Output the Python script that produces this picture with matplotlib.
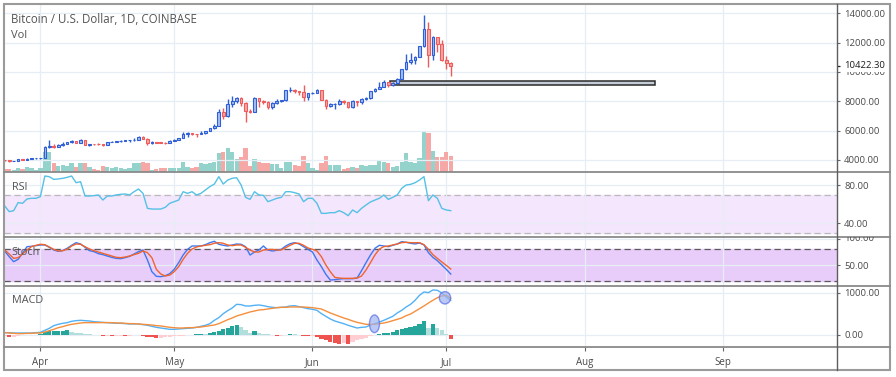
import matplotlib
matplotlib.use('Agg')
import matplotlib.pyplot as plt
import matplotlib.dates as mdates
import numpy as np
import pandas as pd
from matplotlib.patches import Rectangle, Ellipse
from matplotlib.lines import Line2D
from matplotlib.ticker import FuncFormatter
from matplotlib.transforms import Bbox, TransformedBbox, blended_transform_factory

plt.rcParams['font.family'] = ['Open Sans', 'DejaVu Sans']

# daily BTC/USD candles, 2019-03-24 .. 2019-07-02
opens = [3995, 3980, 3910, 3930, 4035, 4015, 4095, 4105, 4108, 4150,
         4880, 4975, 4905, 5040, 5065, 5205, 5285, 5190, 5330, 5040,
         5075, 5070, 5060, 5030, 5220, 5240, 5290, 5300, 5330, 5335,
         5390, 5545, 5440, 5150, 5200, 5190, 5170, 5155, 5320, 5380,
         5490, 5760, 5830, 5790, 5745, 5850, 5990, 6170, 6350, 7250,
         6970, 7810, 7990, 8200, 7880, 7350, 7260, 8200, 7990, 7950,
         7640, 7880, 7990, 8060, 8740, 8780, 8720, 8660, 8270, 8550,
         8560, 8740, 8120, 7680, 7790, 7810, 8000, 7930, 7630, 8010,
         7920, 8170, 8230, 8690, 8850, 8980, 9330, 9080, 9280, 9530,
         10200, 10700, 10850, 11020, 11760, 12930, 11160, 12370, 11880, 10800,
         10600]
highs = [4000, 3990, 3950, 4050, 4040, 4110, 4130, 4115, 4165, 4920,
         5350, 5070, 5070, 5240, 5240, 5350, 5290, 5460, 5340, 5100,
         5110, 5170, 5120, 5240, 5290, 5320, 5340, 5350, 5350, 5480,
         5640, 5620, 5530, 5310, 5240, 5220, 5200, 5330, 5400, 5510,
         5880, 5900, 5840, 5800, 6000, 6000, 6200, 6450, 7450, 7570,
         8140, 8350, 8280, 8320, 7950, 7490, 8270, 8200, 8100, 8040,
         7950, 8160, 8120, 8750, 8950, 8810, 8730, 9080, 8580, 8640,
         8820, 8770, 8130, 7900, 7870, 8130, 8060, 7950, 8090, 8020,
         8210, 8310, 8700, 8880, 9350, 9470, 9350, 9310, 9620, 10230,
         11240, 11300, 11080, 11780, 13880, 13400, 12450, 12400, 12200, 11100,
         10680]
lows = [3950, 3880, 3900, 3920, 3995, 4005, 4050, 4085, 4080, 4140,
        4820, 4850, 4900, 4940, 5060, 5160, 5160, 5170, 4990, 4930,
        5050, 5030, 4980, 5020, 5210, 5230, 5220, 5280, 5240, 5300,
        5380, 5400, 5040, 5100, 5160, 5140, 5120, 5150, 5310, 5370,
        5480, 5600, 5720, 5600, 5740, 5780, 5990, 6140, 6350, 6800,
        6900, 7610, 7860, 7650, 6600, 7230, 7250, 7580, 7800, 7500,
        7470, 7800, 7960, 7990, 8650, 8580, 8440, 8010, 8100, 8490,
        8540, 8100, 7460, 7580, 7460, 7780, 7800, 7520, 7530, 7710,
        7840, 8070, 8170, 8620, 8820, 8970, 8960, 9040, 9250, 9530,
        10120, 10560, 10560, 11000, 11720, 10320, 10800, 11360, 10750, 10200,
        9750]
closes = [3980, 3910, 3930, 4035, 4015, 4095, 4105, 4108, 4150, 4880,
          4975, 4905, 5040, 5065, 5205, 5285, 5190, 5330, 5040, 5075,
          5070, 5060, 5030, 5220, 5240, 5290, 5300, 5330, 5335, 5390,
          5545, 5440, 5150, 5200, 5190, 5170, 5155, 5320, 5380, 5490,
          5760, 5830, 5790, 5745, 5850, 5990, 6170, 6350, 7250, 6970,
          7810, 7990, 8200, 7880, 7350, 7260, 8200, 7990, 7950, 7640,
          7880, 7990, 8060, 8740, 8780, 8720, 8660, 8270, 8550, 8560,
          8740, 8120, 7680, 7790, 7810, 8000, 7930, 7630, 8010, 7920,
          8170, 8230, 8690, 8850, 8980, 9330, 9080, 9280, 9530, 10200,
          10700, 10850, 11020, 11760, 12930, 11160, 12370, 11880, 10800, 10600,
          10422.3]
volume = [3, 3, 1.7, 3.3, 2.3, 5, 3.3, 1.7, 4, 20,
          20, 8.3, 6, 6.7, 6, 9, 5, 8.3, 8.3, 5,
          2.3, 1.7, 5.7, 4.3, 4, 5, 3.3, 3, 3.3, 8.3,
          9, 10, 8.3, 1.7, 2.3, 4, 4, 4, 4, 4,
          10, 5, 3.3, 5, 8.3, 7.3, 9, 10, 19, 20,
          23.3, 20, 12.3, 15, 24, 6, 12.7, 10, 8.3, 8.3,
          7.7, 7.7, 3.3, 10, 9.3, 6.7, 6, 15.7, 8.3, 3.3,
          1.7, 8.3, 15.7, 6.7, 6.7, 6.7, 2.7, 3.3, 5, 3.3,
          6.7, 6, 6.7, 6.7, 11, 10, 8.3, 5, 6, 10,
          19, 9.3, 8.3, 13.3, 40.7, 38.3, 21, 15, 15, 20,
          16]

rsi = [58.1, 52.2, 53.2, 61.6, 60.9, 65.4, 66.1, 66.1, 67.8, 89.4,
       88.7, 85.9, 86.3, 87.0, 88.0, 89.4, 82.4, 83.5, 68.5, 68.5,
       68.9, 69.6, 64.3, 68.5, 68.5, 69.6, 70.3, 70.6, 69.6, 73.0,
       75.8, 71.3, 55.6, 54.9, 54.9, 54.9, 56.7, 60.9, 62.6, 64.3,
       73.0, 71.3, 73.0, 69.6, 71.3, 74.8, 78.3, 81.0, 88.7, 81.0,
       85.2, 87.0, 87.6, 80.0, 67.1, 65.0, 73.0, 69.6, 69.2, 62.6,
       64.3, 66.1, 67.1, 73.0, 73.0, 72.0, 70.6, 62.6, 66.1, 66.1,
       60.9, 50.4, 50.4, 51.1, 51.1, 53.2, 51.1, 48.0, 53.9, 51.1,
       55.6, 59.1, 62.3, 64.3, 66.1, 69.6, 65.0, 67.1, 69.6, 76.5,
       80.0, 80.7, 82.4, 85.2, 88.7, 63.6, 69.6, 66.1, 55.6, 53.9,
       53.2]
stoch_k = [76.8, 66.1, 56.6, 61.0, 72.4, 85.0, 85.7, 86.9, 88.2, 88.2,
           83.8, 78.7, 76.2, 77.5, 81.9, 87.6, 92.6, 90.1, 83.8, 77.5,
           75.6, 71.8, 69.9, 67.3, 64.8, 62.9, 62.3, 64.2, 66.7, 71.1,
           75.6, 78.7, 59.8, 37.6, 28.8, 28.2, 30.1, 33.8, 42.1, 54.7,
           69.2, 80.0, 86.3, 86.3, 86.3, 88.8, 92.6, 95.2, 89.5, 87.6,
           86.3, 88.2, 90.1, 89.5, 85.0, 69.2, 74.9, 78.7, 86.3, 78.7,
           76.8, 78.1, 80.0, 86.3, 90.7, 92.6, 90.1, 85.0, 80.0, 74.9,
           59.8, 47.1, 32.6, 21.8, 22.5, 23.7, 24.4, 24.4, 24.4, 25.6,
           39.5, 54.7, 69.2, 81.9, 87.6, 86.3, 85.0, 87.6, 90.1, 94.5,
           93.3, 91.4, 90.1, 92.0, 88.2, 73.7, 64.8, 58.5, 50.3, 42.1,
           33.2]
stoch_d = [78.7, 71.1, 62.9, 64.2, 71.1, 78.7, 85.0, 87.6, 89.5, 88.8,
           84.4, 80.0, 76.8, 77.5, 80.0, 86.3, 90.1, 89.5, 85.0, 80.6,
           77.5, 74.9, 72.4, 69.9, 67.3, 64.8, 64.2, 65.4, 67.3, 69.9,
           72.4, 76.8, 73.7, 64.0, 42.1, 33.2, 29.4, 31.3, 37.6, 47.1,
           61.0, 72.4, 80.6, 84.4, 86.3, 87.6, 88.8, 91.4, 92.6, 91.4,
           88.2, 86.9, 88.2, 88.2, 83.8, 78.7, 74.9, 74.9, 78.7, 79.4,
           80.0, 78.7, 78.7, 83.1, 87.6, 91.4, 91.4, 87.6, 82.5, 80.0,
           76.8, 66.1, 50.3, 37.6, 26.9, 25.6, 25.0, 25.0, 25.0, 25.6,
           29.4, 40.8, 54.7, 69.2, 80.6, 85.0, 86.3, 88.2, 90.1, 92.6,
           93.3, 92.6, 92.6, 92.6, 88.8, 80.0, 69.9, 62.9, 56.0, 49.6,
           42.7]
macd = [55, 55, 47, 47, 47, 47, 47, 55, 63, 110,
        158, 221, 252, 276, 292, 323, 339, 347, 339, 331,
        315, 307, 299, 292, 284, 276, 276, 268, 260, 260,
        260, 244, 229, 205, 181, 165, 150, 134, 134, 142,
        150, 158, 165, 181, 205, 229, 268, 347, 410, 504,
        575, 638, 725, 717, 686, 686, 701, 709, 693, 670,
        654, 646, 654, 662, 686, 693, 670, 646, 622, 607,
        583, 504, 441, 378, 331, 299, 268, 229, 197, 165,
        181, 189, 236, 268, 307, 347, 394, 441, 520, 583,
        662, 725, 820, 938, 1017, 1001, 1064, 1056, 993, 898,
        820]
signal = [55, 47, 39, 32, 32, 39, 39, 47, 47, 71,
          102, 134, 173, 197, 229, 252, 268, 284, 292, 292,
          292, 292, 292, 292, 292, 284, 284, 276, 268, 268,
          260, 252, 244, 236, 221, 213, 197, 181, 173, 165,
          165, 173, 173, 181, 189, 205, 221, 236, 268, 315,
          362, 402, 449, 480, 512, 544, 567, 591, 599, 615,
          630, 646, 654, 654, 662, 662, 662, 662, 654, 646,
          630, 615, 567, 520, 480, 441, 402, 370, 331, 299,
          276, 252, 252, 252, 268, 284, 307, 339, 370, 402,
          457, 496, 559, 622, 686, 756, 820, 882, 922, 938,
          867]
hist = [-32, -47, -39, -16, -8, 5, 8, 8, 16, 80,
        88, 92, 95, 97, 110, 71, 55, 39, 24, 16,
        8, 2, -16, -16, -24, -16, -16, -24, -16, -8,
        -3, -16, -39, -55, -63, -63, -47, -39, -32, -24,
        -16, -8, 8, 16, 24, 24, 39, 71, 95, 134,
        165, 205, 244, 189, 110, 55, 95, 47, 32, 16,
        2, -16, -16, -8, 16, 16, 8, -16, -24, -24,
        -47, -87, -126, -158, -189, -205, -189, -205, -158, -126,
        -95, -63, -32, -8, 32, 47, 55, 63, 110, 150,
        173, 197, 221, 260, 323, 173, 252, 173, 110, 32,
        -102]
last_price = 10422.30

dates = pd.date_range('2019-03-24', periods=len(closes), freq='D')
x = mdates.date2num(dates)

W, H = 896, 377
fig = plt.figure(figsize=(W / 100, H / 100), dpi=100, facecolor='white')


def box(top, bottom, left=4, right=837):
    return [left / W, 1 - bottom / H, (right - left) / W, (bottom - top) / H]


ax_v = fig.add_axes(box(4, 171.7))
ax_p = fig.add_axes(box(4, 171.7), sharex=ax_v)
ax_r = fig.add_axes(box(171.7, 236.7), sharex=ax_v)
ax_s = fig.add_axes(box(236.7, 285.7), sharex=ax_v)
ax_m = fig.add_axes(box(285.7, 346.5), sharex=ax_v)
ax_p.patch.set_alpha(0)

grid_c = '#e6edf4'
lab_c = '#4a4a4a'
for ax in (ax_v, ax_p, ax_r, ax_s, ax_m):
    for sp in ax.spines.values():
        sp.set_visible(False)
    ax.yaxis.tick_right()
    ax.tick_params(axis='y', direction='out', length=2.2, width=0.8, color='#666',
                   labelsize=6.8, labelcolor=lab_c, pad=2.9)
    ax.tick_params(axis='x', length=0, labelbottom=False)

ax_m.xaxis.set_major_locator(mdates.MonthLocator())
ax_m.xaxis.set_major_formatter(mdates.DateFormatter('%b'))
ax_m.set_xlim(x[0] - 0.16, x[0] + 186.6)
for ax in (ax_v, ax_r, ax_s, ax_m):
    ax.grid(axis='x', color=grid_c, lw=0.9, zorder=0)
for ax in (ax_p, ax_r, ax_s, ax_m):
    ax.grid(axis='y', color=grid_c, lw=0.9, zorder=0)
ax_m.tick_params(axis='x', length=3, width=0.8, color='#666', direction='out',
                 labelbottom=True, labelsize=7, labelcolor=lab_c, pad=4.5)

o = np.array(opens)
c = np.array(closes)
up = c >= o
edge = np.where(up, '#2f5fd6', '#ee5b5b')
face = np.where(up, '#a7bff0', '#f6a9a8')

# volume underneath
vol_c = np.where(up, '#94d3cb', '#f5a8a6')
ax_v.bar(x, volume, width=0.95, color=vol_c, zorder=2)
ax_v.set_ylim(0, max(volume) / 0.243)
ax_v.set_yticks([])

# price candles
ax_p.vlines(x, lows, highs, colors=edge, lw=1, zorder=3)
ax_p.bar(x, np.maximum(np.abs(c - o), 35), bottom=np.minimum(o, c), width=0.6,
         color=face, edgecolor=edge, lw=0.8, zorder=4)
ax_p.add_patch(Rectangle((x[0] + 86.4, 9082), 59.4, 315, fc='#c4ccd8', ec='#2b2b2b',
                         lw=1.1, zorder=2))
ax_p.set_ylim(3202, 14634)
ax_p.set_yticks(np.arange(4000, 14001, 2000))
ax_p.yaxis.set_major_formatter(FuncFormatter(lambda v, p: f'{v:.2f}'))
ax_p.set_yticks([last_price], minor=True)
ax_p.tick_params(axis='y', which='minor', direction='out', length=2.2, width=0.9, color='#222')
tr = blended_transform_factory(fig.transFigure, ax_p.transData)
ax_p.text(844 / W, last_price, f'{last_price:.2f}', transform=tr, va='center', ha='left',
          fontsize=6.8, color='#1c1c1c', clip_on=False, zorder=10,
          bbox=dict(fc='white', ec='none', pad=1.2))

# RSI
ax_r.axhspan(30, 70, color='#f3e6fd', zorder=0)
for lvl in (30, 70):
    ax_r.axhline(lvl, color='#b9b9b9', lw=0.9, ls=(0, (5, 3)), zorder=1)
ax_r.plot(x, rsi, color='#55c1e6', lw=1, zorder=3)
ax_r.set_ylim(26, 93.9)
ax_r.set_yticks([40, 80])
ax_r.yaxis.set_major_formatter(FuncFormatter(lambda v, p: f'{v:.2f}'))

# Stoch
ax_s.axhspan(20, 80, color='#e8cdfa', zorder=0)
for lvl in (20, 80):
    ax_s.axhline(lvl, color='#5a5a5a', lw=0.9, ls=(0, (5, 3)), zorder=1)
ax_s.plot(x, stoch_k, color='#3f78ee', lw=1, zorder=3)
ax_s.plot(x, stoch_d, color='#f0642e', lw=1, zorder=3)
ax_s.set_ylim(11.1, 103.9)
ax_s.set_yticks([50, 100])
ax_s.yaxis.set_major_formatter(FuncFormatter(lambda v, p: '' if v > 99 else f'{v:.2f}'))
t100 = fig.text(844 / W, 1 - 238.7 / H, '100.00', va='center', ha='left', fontsize=6.8,
                color=lab_c)
t100.set_clip_box(TransformedBbox(Bbox([[0, 1 - 285.7 / H], [1, 1 - 236.7 / H]]),
                                  fig.transFigure))
t100.set_clip_on(True)

# MACD
h = np.array(hist, dtype=float)
prev = np.concatenate([[h[0]], h[:-1]])
hcol = np.where(h >= 0, np.where(h > prev, '#26a69a', '#b2dfdb'),
                np.where(h < prev, '#ef5350', '#ffcdd2'))
ax_m.bar(x, h, width=0.95, color=hcol, zorder=2)
ax_m.plot(x, macd, color='#52b1f5', lw=1, zorder=3)
ax_m.plot(x, signal, color='#f68f3c', lw=1, zorder=3)
for cx, cy, ew, eh in ((82.9, 265, 2.24, 418), (98.7, 879, 2.53, 291)):
    ax_m.add_patch(Ellipse((x[0] + cx, cy), ew, eh, fc='#9fb4f0', ec='#5a6de8',
                           lw=1, alpha=0.7, zorder=5))
ax_m.set_ylim(-272, 1165)
ax_m.set_yticks([0, 1000])
ax_m.yaxis.set_major_formatter(FuncFormatter(lambda v, p: f'{v:.2f}'))

# legends / pane titles
txt = dict(ha='left', va='center', color='#545454')
fig.text(11 / W, 1 - 19.5 / H, 'Bitcoin / U.S. Dollar, 1D, COINBASE', fontsize=8.3, **txt)
fig.text(11 / W, 1 - 35 / H, 'Vol', fontsize=8, **txt)
fig.text(11.7 / W, 1 - 187 / H, 'RSI', fontsize=7.8, **txt)
fig.text(11.7 / W, 1 - 252.7 / H, 'Stoch', fontsize=7.8, **txt)
fig.text(11.7 / W, 1 - 300.7 / H, 'MACD', fontsize=7.8, **txt)

# frame and pane separators
fy = lambda y: 1 - y / H
for y in (171.7, 236.7, 285.7, 346.5):
    fig.add_artist(Line2D([4 / W, 890 / W], [fy(y)] * 2, color='#8a8a8a', lw=1.3))
fig.add_artist(Line2D([837 / W] * 2, [fy(4), fy(370)], color='#5e5e5e', lw=1))
fig.add_artist(Rectangle((4 / W, fy(370)), 886 / W, 366 / H, fill=False, ec='#9a9a9a',
                         lw=1.5, transform=fig.transFigure))

fig.savefig('out.png', dpi=100, facecolor='white')
